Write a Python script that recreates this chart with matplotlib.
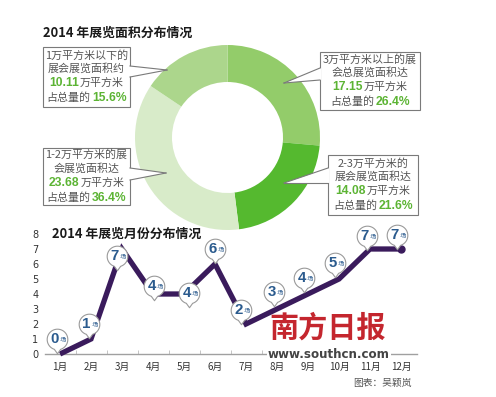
import numpy as np
import matplotlib
matplotlib.use("Agg")
import matplotlib.pyplot as plt
from matplotlib.path import Path
from matplotlib.patches import Rectangle, Polygon
from matplotlib.lines import Line2D
from matplotlib.offsetbox import TextArea, HPacker, VPacker, AnnotationBbox
from matplotlib.transforms import offset_copy

plt.rcParams['font.family'] = ['Noto Sans CJK SC', 'DejaVu Sans']

# ---------------- data ----------------
area_categories = ["3万平方米以上", "2-3万平方米", "1-2万平方米", "1万平方米以下"]
area_shares = [26.4, 21.6, 36.4, 15.6]
area_values = [17.15, 14.08, 23.68, 10.11]

months = ["1月", "2月", "3月", "4月", "5月", "6月", "7月", "8月", "9月", "10月", "11月", "12月"]
month_counts = [0, 1, 7, 4, 4, 6, 2, 3, 4, 5, 7, 7]
y_ticks = [0, 1, 2, 3, 4, 5, 6, 7, 8]

title_area = "2014 年展览面积分布情况"
title_month = "2014 年展览月份分布情况"

# ---------------- styles ----------------
W, H = 496, 397
CJK = ['Noto Sans CJK SC', 'DejaVu Sans']
NUM = ['Liberation Sans', 'DejaVu Sans']
GREEN_TXT = '#5cb434'
GRAY_TXT = '#555555'
slice_colors = ['#93cc6a', '#55b92f', '#d8ebc9', '#acd68c']
LINE_COL = '#3a1b5c'
BUBBLE_TXT = '#2b5b8e'
# bubble offsets (pixels) relative to data point
bubble_offsets = [(-3, 15), (-2, 15), (-5, -7), (1, 8), (5, 1), (0, 15),
                  (-5, 14), (-3, 17), (-4, 16), (-4, 16), (-3, 13), (-4, 14)]


def fx(x):
    return x / W


def fy(y):
    return 1 - y / H


fig = plt.figure(figsize=(W / 100, H / 100), dpi=100)
fig.patch.set_facecolor('white')

# ---------------- donut ----------------
axp = fig.add_axes([fx(135), fy(230), 185 / W, 185 / H])
axp.pie(area_shares, startangle=90, counterclock=False, colors=slice_colors,
        radius=1.0, wedgeprops=dict(width=0.4, edgecolor='none'))
axp.set_xlim(-1, 1)
axp.set_ylim(-1, 1)
axp.axis('off')

fig.text(fx(43), fy(33), title_area, fontsize=9.3, fontweight='bold',
         color='#1a1a1a', ha='left', va='center', family=CJK)


def callout(box, base, tip, lines):
    x0, y0, x1, y1 = box
    fig.patches.append(Rectangle((fx(x0), fy(y1)), (x1 - x0) / W, (y1 - y0) / H,
                                 transform=fig.transFigure, facecolor='white',
                                 edgecolor='#7a7a7a', lw=0.8, zorder=3))
    bx, by0, by1 = base
    side = 1 if tip[0] > bx else -1
    inner = bx - side * 1.0
    poly = Polygon([(fx(inner), fy(by0)), (fx(tip[0]), fy(tip[1])), (fx(inner), fy(by1))],
                   closed=True, transform=fig.transFigure, facecolor='white',
                   edgecolor='none', zorder=4)
    fig.patches.append(poly)
    for by in (by0, by1):
        fig.lines.append(Line2D([fx(bx), fx(tip[0])], [fy(by), fy(tip[1])],
                                transform=fig.transFigure, color='#7a7a7a', lw=0.8, zorder=5))
    rows = []
    for segs in lines:
        parts = []
        for txt, kind in segs:
            if kind == 'g':
                tp = dict(fontsize=8.7, fontweight='bold', color=GREEN_TXT, family=NUM)
            else:
                tp = dict(fontsize=7.9, color=GRAY_TXT, family=CJK)
            parts.append(TextArea(txt, textprops=tp))
        rows.append(HPacker(children=parts, align='baseline', pad=0, sep=1))
    vp = VPacker(children=rows, align='center', pad=0, sep=2.2)
    ab = AnnotationBbox(vp, (fx((x0 + x1) / 2), fy((y0 + y1) / 2)),
                        xycoords='figure fraction', frameon=False,
                        box_alignment=(0.5, 0.5), zorder=6)
    fig.add_artist(ab)


callout((43, 47, 130, 107), (130, 66, 77), (167, 70),
        [[("1万平方米以下的", 'n')], [("展会展览面积约", 'n')],
         [("%.2f" % area_values[3], 'g'), ("万平方米", 'n')],
         [("占总量的", 'n'), ("%.1f%%" % area_shares[3], 'g')]])
callout((43, 148, 130, 205), (130, 168, 180), (166, 173),
        [[("1-2万平方米的展", 'n')], [("会展览面积达", 'n')],
         [("%.2f" % area_values[2], 'g'), ("万平方米", 'n')],
         [("占总量的", 'n'), ("%.1f%%" % area_shares[2], 'g')]])
callout((320, 52, 420, 110), (320, 68, 80), (284, 83),
        [[("3万平方米以上的展", 'n')], [("会总展览面积达", 'n')],
         [("%.2f" % area_values[0], 'g'), ("万平方米", 'n')],
         [("占总量的", 'n'), ("%.1f%%" % area_shares[0], 'g')]])
callout((328, 155, 418, 215), (328, 168, 183), (284, 183),
        [[("2-3万平方米的", 'n')], [("展会展览面积达", 'n')],
         [("%.2f" % area_values[1], 'g'), ("万平方米", 'n')],
         [("占总量的", 'n'), ("%.1f%%" % area_shares[1], 'g')]])

# ---------------- month line chart ----------------
ax = fig.add_axes([fx(44.5), fy(354), 372 / W, 120 / H])
ax.set_facecolor('none')
x = np.arange(1, len(months) + 1)
ax.set_xlim(0.5, 12.5)
ax.set_ylim(0, 8)
ax.plot(x, month_counts, color=LINE_COL, lw=3.8, solid_joinstyle='miter',
        solid_capstyle='butt', clip_on=False, zorder=3)
ax.plot(x[-1:], month_counts[-1:], 'o', color=LINE_COL, ms=5, clip_on=False, zorder=3)

ax.set_yticks(y_ticks)
ax.set_yticklabels([str(v) for v in y_ticks], family='DejaVu Sans')
ax.set_xticks(x)
ax.set_xticklabels(months, family=CJK)
ax.tick_params(axis='y', length=0, pad=4.5, labelsize=7, labelcolor='#333333')
ax.tick_params(axis='x', length=0, pad=6, labelsize=7, labelcolor='#333333')
ax.set_xticks(np.arange(1.5, 12.5, 1), minor=True)
ax.tick_params(axis='x', which='minor', direction='in', length=3, color='#bbbbbb')
for s in ('top', 'right', 'left'):
    ax.spines[s].set_visible(False)
ax.spines['bottom'].set_color('#a0a0a0')
ax.spines['bottom'].set_linewidth(1.0)

# bubble marker: circle with small tail
ang = np.linspace(np.deg2rad(-72), np.deg2rad(252), 60)
verts = np.column_stack([np.cos(ang), np.sin(ang)])
verts = np.vstack([verts, [[0, -1.38]], verts[:1]])
codes = [Path.MOVETO] + [Path.LINETO] * (len(verts) - 2) + [Path.CLOSEPOLY]
bubble = Path(verts, codes)

for xi, yi, (dx, dy) in zip(x, month_counts, bubble_offsets):
    tr = offset_copy(ax.transData, fig=fig, x=dx, y=dy, units='dots')
    ax.plot([xi], [yi], marker=bubble, ms=20.5, mfc='white', mec='#9a9a9a',
            mew=0.8, transform=tr, clip_on=False, zorder=5, ls='none')
    tn = offset_copy(ax.transData, fig=fig, x=dx - 2.5, y=dy, units='dots')
    ax.text(xi, yi, str(yi), transform=tn, ha='center', va='center', fontsize=10.8,
            fontweight='bold', color=BUBBLE_TXT, family=NUM, zorder=6, clip_on=False)
    tc = offset_copy(ax.transData, fig=fig, x=dx + 5.5, y=dy - 1, units='dots')
    ax.text(xi, yi, "场", transform=tc, ha='center', va='center', fontsize=4.6,
            color=BUBBLE_TXT, family=CJK, zorder=6, clip_on=False)

fig.text(fx(52), fy(234), title_month, fontsize=9.3, fontweight='bold',
         color='#1a1a1a', ha='left', va='center', family=CJK)

# watermark & credit
fig.text(fx(328), fy(328), "南方日报", fontsize=21, fontweight='bold', color='#c4262e',
         ha='center', va='center', family=CJK, zorder=7)
fig.text(fx(329), fy(354), "www.southcn.com", fontsize=8.6, fontweight='bold', color='#444444',
         ha='center', va='center', family='DejaVu Sans', zorder=7,
         bbox=dict(facecolor='white', edgecolor='none', pad=0.5))
fig.text(fx(412), fy(383), "图表：吴颖岚", fontsize=7, color='#555555',
         ha='right', va='center', family=CJK)

fig.savefig("out.png", dpi=100, facecolor='white')
